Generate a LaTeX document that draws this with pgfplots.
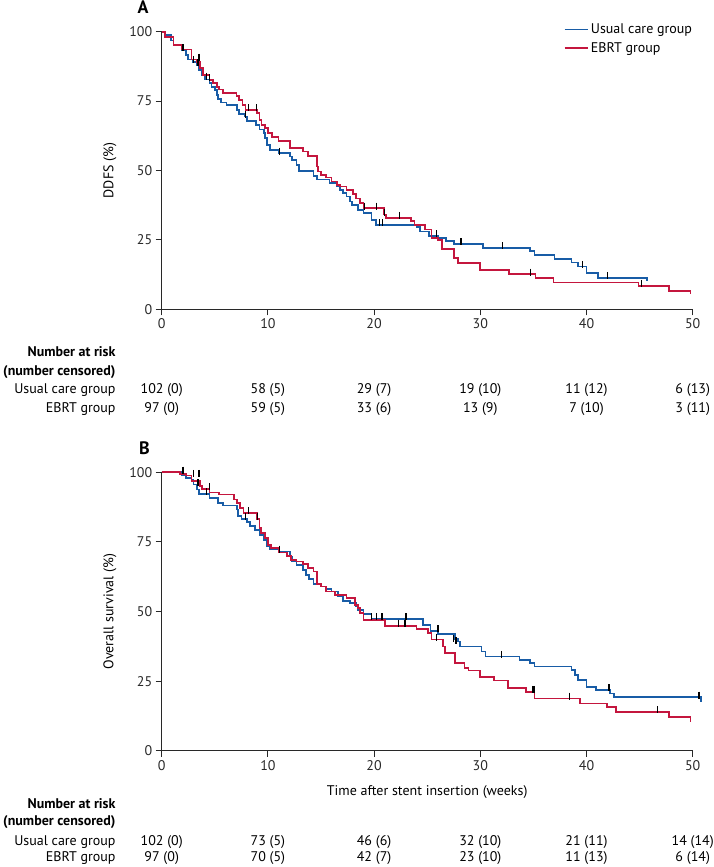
\documentclass[border=0pt]{standalone}
\usepackage{fontspec}
\setmainfont{PT Sans}
\usepackage{pgfplots}
\pgfplotsset{compat=1.18}
\definecolor{ucblue}{RGB}{24,92,166}
\definecolor{ebred}{RGB}{196,22,62}
\definecolor{axgray}{RGB}{40,40,40}
\newcommand{\fs}{\fontsize{14}{16.5}\selectfont}
\pgfplotsset{
  kmaxis/.style={
    scale only axis, width=531pt,
    xmin=0, xmax=50, ymin=0, ymax=100,
    enlargelimits=false, clip=false,
    axis lines=left,
    axis line style={axgray, line width=1.2pt, -},
    xtick={0,10,20,30,40,50}, ytick={0,25,50,75,100},
    tick align=outside, major tick length=6pt,
    tick style={axgray, line width=1.1pt},
    /pgf/number format/assume math mode=true,
    font=\fs,
    ticklabel style={font=\fs, text=axgray},
    every axis y label/.style={at={(rel axis cs:0,0.5)}, xshift=-51.7pt, rotate=90, anchor=center, font=\fs},
    every axis x label/.style={at={(rel axis cs:0.5,0)}, yshift=-41pt, anchor=center, font=\fs},
    legend image code/.code={\draw[#1] (0pt,0pt) -- (23pt,0pt);},
    legend style={draw=none, fill=none, font=\fs, at={(rel axis cs:1,1)}, anchor=north east, xshift=2pt, yshift=10.5pt, inner sep=0pt, row sep=2pt, nodes={inner sep=2.5pt}},
    legend cell align=left,
  },
  ucline/.style={ucblue, line width=1.7pt, const plot, no marks},
  ebline/.style={ebred, line width=1.7pt, const plot, no marks},
  cens/.style={only marks, mark=|, mark size=3.5pt, mark options={black, line width=1.4pt}, forget plot},
}
\begin{document}
\begin{tikzpicture}[font=\fs]
\useasboundingbox (0,0) rectangle (714pt,-867pt);
\node[font=\fontsize{18}{20}\selectfont\bfseries] at (143pt,-7pt) {A};
\node[font=\fontsize{18}{20}\selectfont\bfseries] at (144.5pt,-448pt) {B};
% ---------------- Panel A ----------------
\begin{axis}[kmaxis, height=277.6pt, at={(161.7pt,-309.3pt)}, anchor=south west,
  ylabel={DDFS (\%)}]
\addplot[ucline] coordinates {
(0,100)(0.3,98.8)(0.85,96.8)(1.1,95.2)(1.9,93.4)(2.3,91.6)(2.5,90)(2.9,89.2)(3.3,88)
(3.5,86.2)(3.76,84.4)(4.1,82.8)(4.5,81.4)(4.7,80.2)(5.0,79)(5.2,77.2)(5.3,75.7)(5.6,74.5)
(6.1,73.6)(7.1,71.8)(7.3,70.3)(7.8,69.4)(8.0,67.8)(8.9,66.4)(9.2,64.8)(9.6,63.4)(9.7,61.6)
(9.9,59.2)(10.2,57.4)(11.0,56.2)(12.1,55)(12.3,53.8)(12.7,52)(12.9,49.8)(14.3,48)(14.6,46.8)
(15.8,45.4)(16.5,44.2)(16.8,43)(17.1,41.8)(17.4,40.6)(17.7,38.8)(17.9,37.6)(18.5,35.8)
(19.0,34.6)(19.75,32.2)(20.2,30.4)(24.0,29.6)(24.3,28.0)(25.2,26.4)(26.0,25.6)(26.8,24.6)
(27.5,23.5)(30.25,22.1)(34.65,21.0)(35.1,19.6)(37.0,18.2)(38.6,16.9)(39.2,15.4)(40.0,13.0)
(41.1,11.2)(45.7,10.3)
};
\addlegendentry{Usual care group}
\addplot[ebline] coordinates {
(0,100)(0.3,98)(1.1,95.2)(1.9,93.6)(2.8,90)(3.3,89.2)(3.6,86.8)(3.9,84.4)(4.5,82.5)
(4.8,81.4)(5.2,80.2)(5.4,79.2)(5.8,78)(7.05,76.8)(7.3,75.3)(7.6,73.6)(7.9,71.8)(9.0,70.6)
(9.2,68.2)(9.4,66.4)(9.7,65.2)(10.0,63.4)(10.4,62)(11.0,60.7)(12.1,58)(13.3,56.8)(13.8,55.2)
(14.6,51.4)(14.7,49.6)(15.0,48.4)(15.5,47.5)(16.0,46)(16.5,44.8)(16.8,44.2)(17.4,43)
(18.0,41.5)(18.3,39.9)(18.7,38.4)(19.0,36.4)(20.9,34.2)(21.1,33)(23.5,31.8)(23.8,30.4)
(24.8,28.8)(25.4,25.6)(26.0,25.0)(26.4,21.6)(27.5,18.4)(27.9,16.6)(30.0,14.2)(32.7,12.6)
(35.2,11.2)(36.9,9.7)(44.9,8.5)(47.8,6.7)(49.8,5.4)
};
\addlegendentry{EBRT group}
\addplot[cens] coordinates {
(2.0,94.2)(3.0,90)(3.4,88.8)(4.2,84)(4.5,83.5)(7.9,70.2)(11.1,57)(20.5,31.2)(20.8,31.2)
(25.9,27.2)(28.2,24.3)(32.1,22.9)(39.6,16.2)(42.0,12.0)
(3.5,90.8)(8.2,72.6)(8.95,72.6)(19.1,37.2)(20.2,37.2)(21.0,35.0)(22.4,33.8)(34.7,13.4)(45.2,9.3)
};
% risk table A
\node[anchor=east, font=\fs\bfseries] at (axis cs:0,0) [xshift=-42.7pt, yshift=-42.4pt] {Number at risk};
\node[anchor=east, font=\fs\bfseries] at (axis cs:0,0) [xshift=-42.7pt, yshift=-62.4pt] {(number censored)};
\node[anchor=east] at (axis cs:0,0) [xshift=-42.7pt, yshift=-80.7pt] {Usual care group};
\node[anchor=east] at (axis cs:0,0) [xshift=-42.7pt, yshift=-99.7pt] {EBRT group};
\node at (axis cs:0,0)  [yshift=-80.7pt] {102 (0)};
\node at (axis cs:10,0) [yshift=-80.7pt] {58 (5)};
\node at (axis cs:20,0) [yshift=-80.7pt] {29 (7)};
\node at (axis cs:30,0) [yshift=-80.7pt] {19 (10)};
\node at (axis cs:40,0) [yshift=-80.7pt] {11 (12)};
\node at (axis cs:50,0) [yshift=-80.7pt] {6 (13)};
\node at (axis cs:0,0)  [yshift=-99.7pt] {97 (0)};
\node at (axis cs:10,0) [yshift=-99.7pt] {59 (5)};
\node at (axis cs:20,0) [yshift=-99.7pt] {33 (6)};
\node at (axis cs:30,0) [yshift=-99.7pt] {13 (9)};
\node at (axis cs:40,0) [yshift=-99.7pt] {7 (10)};
\node at (axis cs:50,0) [yshift=-99.7pt] {3 (11)};
\end{axis}
% ---------------- Panel B ----------------
\begin{axis}[kmaxis, height=278.4pt, at={(161.7pt,-750.7pt)}, anchor=south west,
  ylabel={Overall survival (\%)}, xlabel={Time after stent insertion (weeks)}]
\addplot[ucline] coordinates {
(0,100)(1.9,99)(2.3,98)(2.8,97.4)(3.0,95.6)(3.3,93.8)(3.5,92.2)(4.5,90.8)(5.3,89)(5.8,88.1)
(7.1,86.6)(7.2,84.2)(7.5,83.3)(8.0,82.1)(8.3,80.6)(8.8,79.4)(9.2,77.6)(9.6,75.8)(9.9,73.6)
(10.2,72.4)(11.0,71.6)(12.1,69.8)(12.3,68.2)(12.7,66.8)(13.3,65)(13.6,63.2)(13.9,61.6)
(14.3,60)(15.0,59)(15.5,58.2)(16.0,57.2)(16.6,55.4)(17.1,53.8)(17.7,53)(18.3,52)(18.5,50.6)
(19.0,49.2)(19.75,47.4)(24.6,45.2)(25.3,43.0)(26.0,41.9)(27.6,40.1)(27.9,39.2)(28.1,37.4)
(30.1,35.6)(30.5,33.8)(33.7,32.6)(34.7,31.4)(35.1,30.2)(38.6,29.0)(38.9,27.2)(39.2,25.4)
(40.0,23.0)(40.9,21.8)(42.2,20.6)(42.6,19.2)(50.8,17.6)
};
\addplot[ebline] coordinates {
(0,100)(1.7,99.4)(2.3,98.8)(2.8,96.8)(3.6,95)(3.8,94)(4.5,92.8)(5.4,92)(6.8,90.2)(7.1,89)
(7.4,87.2)(7.7,85.4)(9.0,83.2)(9.2,80)(9.35,78.2)(9.7,76.4)(10.0,74)(10.3,72.8)(11.0,71.2)
(11.8,70)(12.2,68.6)(12.7,68)(13.3,67.1)(13.8,65.6)(14.3,64.4)(14.6,60)(15.0,59)(15.5,57.2)
(16.3,56)(17.4,54.8)(18.2,52.4)(18.5,51.2)(18.7,49.4)(19.0,47)(21.0,44.8)(24.0,43.6)
(25.1,42.2)(25.4,40.0)(26.5,37.4)(26.7,35.2)(27.6,31.4)(28.5,29.6)(28.9,28.8)(30.0,26.4)
(31.3,25.2)(32.6,22.4)(34.3,21.2)(35.1,18.8)(39.4,17.0)(41.9,15.8)(42.8,14.0)(47.8,12.2)
(49.8,10.4)
};
\addplot[cens] coordinates {
(2.0,100.8)(3.4,96.4)(4.2,93)(7.9,84.1)(11.1,72.4)(19.75,48.2)(20.2,48.2)(20.75,48.2)
(23.0,48.2)(26.0,43.8)(27.5,40.2)(27.7,39.5)(32.0,34.6)(42.1,22.6)(50.6,20.0)
(3.0,99.6)(3.5,99.6)(4.5,94.8)(8.2,86.2)(9.0,84.2)(22.3,45.8)(22.9,45.8)(25.9,40.8)
(34.9,22.0)(35.05,22.0)(38.4,19.6)(46.7,14.8)
};
% risk table B
\node[anchor=east, font=\fs\bfseries] at (axis cs:0,0) [xshift=-42.7pt, yshift=-52.6pt] {Number at risk};
\node[anchor=east, font=\fs\bfseries] at (axis cs:0,0) [xshift=-42.7pt, yshift=-71pt] {(number censored)};
\node[anchor=east] at (axis cs:0,0) [xshift=-42.7pt, yshift=-91pt] {Usual care group};
\node[anchor=east] at (axis cs:0,0) [xshift=-42.7pt, yshift=-107.6pt] {EBRT group};
\node at (axis cs:0,0)  [yshift=-91pt] {102 (0)};
\node at (axis cs:10,0) [yshift=-91pt] {73 (5)};
\node at (axis cs:20,0) [yshift=-91pt] {46 (6)};
\node at (axis cs:30,0) [yshift=-91pt] {32 (10)};
\node at (axis cs:40,0) [yshift=-91pt] {21 (11)};
\node at (axis cs:50,0) [yshift=-91pt] {14 (14)};
\node at (axis cs:0,0)  [yshift=-107.6pt] {97 (0)};
\node at (axis cs:10,0) [yshift=-107.6pt] {70 (5)};
\node at (axis cs:20,0) [yshift=-107.6pt] {42 (7)};
\node at (axis cs:30,0) [yshift=-107.6pt] {23 (10)};
\node at (axis cs:40,0) [yshift=-107.6pt] {11 (13)};
\node at (axis cs:50,0) [yshift=-107.6pt] {6 (14)};
\end{axis}
\end{tikzpicture}
\end{document}
